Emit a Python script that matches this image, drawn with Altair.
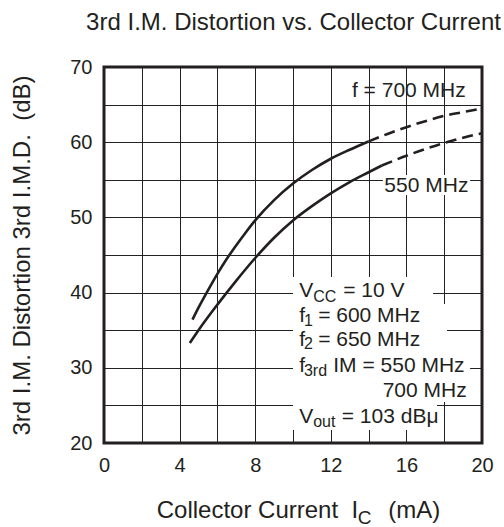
import altair as alt
import pandas as pd

# ---- curve data ----
ic_700_solid = [4.68, 5.0, 5.5, 6.0, 6.5, 7.0, 7.5, 8.0, 9.0, 10.0, 11.0, 12.0, 13.0, 14.0]
db_700_solid = [36.4, 38.0, 40.3, 42.5, 44.5, 46.3, 48.0, 49.6, 52.3, 54.5, 56.3, 57.8, 59.0, 60.1]
ic_700_dash = [14.0, 15.0, 16.0, 17.0, 18.0, 19.0, 20.0]
db_700_dash = [60.1, 61.1, 62.0, 62.8, 63.5, 64.0, 64.5]

ic_550_solid = [4.54, 5.0, 6.0, 7.0, 8.0, 9.0, 10.0, 11.0, 12.0, 13.0, 14.0, 14.7]
db_550_solid = [33.3, 35.0, 38.4, 41.6, 44.6, 47.3, 49.6, 51.5, 53.2, 54.7, 56.0, 56.9]
ic_550_dash = [14.7, 16.0, 17.0, 18.0, 19.0, 20.0]
db_550_dash = [56.9, 58.2, 59.1, 59.9, 60.6, 61.2]

x_ticks = [0, 2, 4, 6, 8, 10, 12, 14, 16, 18, 20]
y_ticks = [20, 25, 30, 35, 40, 45, 50, 55, 60, 65, 70]

# ---- annotation texts (data coordinates) ----
ann_text = ["f = 700 MHz", "550 MHz",
            "V", "CC", "= 10 V",
            "f", "1", "= 600 MHz",
            "f", "2", "= 650 MHz",
            "f", "3rd", "IM = 550 MHz",
            "700 MHz",
            "V", "out", "= 103 dB\u03bc"]
ann_x = [19.14, 19.28,
         10.33, 11.07, 12.66,
         10.33, 10.58, 11.33,
         10.33, 10.58, 11.33,
         10.33, 10.58, 12.13,
         19.19,
         10.33, 11.07, 12.58]
ann_y = [65.97, 53.42,
         39.38, 38.79, 39.38,
         36.05, 35.60, 36.05,
         32.90, 32.45, 32.90,
         29.48, 28.91, 29.48,
         26.16,
         22.70, 22.17, 22.70]
ann_size = [21, 21,
            21, 16, 21,
            21, 16, 21,
            21, 16, 21,
            21, 16, 21,
            21,
            21, 16, 21]
ann_align = ["right", "right",
             "left", "left", "left",
             "left", "left", "left",
             "left", "left", "left",
             "left", "left", "left",
             "right",
             "left", "left", "left"]

# white knock-out boxes behind labels (data coordinates)
box_x1 = [14.76, 10.0, 10.0, 10.0, 10.0, 10.0, 10.0]
box_x2 = [19.37, 17.41, 18.15, 18.15, 19.37, 19.37, 17.62]
box_y1 = [55.64, 42.07, 38.48, 35.16, 31.97, 28.64, 25.45]
box_y2 = [52.98, 38.48, 35.16, 31.97, 28.64, 25.45, 21.73]

FONT = "Liberation Sans"
INK = "#231f20"
W, H = 378, 376

def seg(ic, db, name):
    return pd.DataFrame({"ic": ic, "db": db, "curve": name})

solid_df = pd.concat([seg(ic_700_solid, db_700_solid, "700"),
                      seg(ic_550_solid, db_550_solid, "550")])
dash_df = pd.concat([seg(ic_700_dash, db_700_dash, "700"),
                     seg(ic_550_dash, db_550_dash, "550")])
ann_df = pd.DataFrame({"ic": ann_x, "db": ann_y, "text": ann_text,
                       "fs": ann_size, "align": ann_align})
box_df = pd.DataFrame({"x1": box_x1, "x2": box_x2, "y1": box_y1, "y2": box_y2})

xscale = alt.Scale(domain=[0, 20], nice=False, zero=False)
yscale = alt.Scale(domain=[20, 70], nice=False, zero=False)

xaxis = alt.Axis(values=x_ticks, labelExpr="datum.value % 4 == 0 ? datum.label : ''",
                 grid=True, gridColor="#222222", gridWidth=1, domain=False, ticks=False,
                 labelFontSize=20, labelFont=FONT, labelColor=INK, labelPadding=12,
                 labelFlush=False, title=None)
yaxis = alt.Axis(values=y_ticks, labelExpr="datum.value % 10 == 0 ? datum.label : ''",
                 grid=True, gridColor="#222222", gridWidth=1, domain=False, ticks=False,
                 labelFontSize=20, labelFont=FONT, labelColor=INK, labelPadding=12,
                 labelFlush=False,
                 title="3rd I.M. Distortion 3rd I.M.D.\u00a0 (dB)",
                 titleFont=FONT, titleFontSize=24, titleFontWeight="normal",
                 titleColor=INK, titleX=-75, titleBaseline="alphabetic")

X = alt.X("ic:Q", scale=xscale, axis=xaxis)
Y = alt.Y("db:Q", scale=yscale, axis=yaxis)

boxes = alt.Chart(box_df).mark_rect(color="white").encode(
    x=alt.X("x1:Q", scale=xscale, axis=xaxis), x2="x2:Q",
    y=alt.Y("y1:Q", scale=yscale, axis=yaxis), y2="y2:Q")

solid = alt.Chart(solid_df).mark_line(color=INK, strokeWidth=2.6,
                                      interpolate="monotone").encode(
    x=X, y=Y, detail="curve:N")
dashed = alt.Chart(dash_df).mark_line(color=INK, strokeWidth=2.6, strokeDash=[11, 6],
                                      interpolate="monotone").encode(
    x=X, y=Y, detail="curve:N")

def text_layer(align):
    return alt.Chart(ann_df).transform_filter(
        alt.datum.align == align
    ).mark_text(align=align, baseline="alphabetic", font=FONT, color=INK).encode(
        x=X, y=Y, text="text:N", size=alt.Size("fs:Q", scale=None, legend=None))

# chart title and x-axis title (with subscript) as free text, pixel offsets from plot origin
xt_text = ["3rd I.M. Distortion vs. Collector Current",
           "Collector Current\u00a0 I", "C", "(mA)"]
xt_px = [189.5, 52.7, 253.7, 284.3]
xt_py = [-37, 451, 457, 451]
xt_fs = [24, 24, 19, 24]
xt_align = ["center", "left", "left", "left"]
xt_df = pd.DataFrame({"text": xt_text, "px": xt_px, "py": xt_py, "fs": xt_fs,
                      "align": xt_align})

def free_text(align):
    return alt.Chart(xt_df).transform_filter(
        alt.datum.align == align
    ).mark_text(align=align, baseline="alphabetic", font=FONT, color=INK).encode(
        x=alt.X("px:Q", scale=None), y=alt.Y("py:Q", scale=None), text="text:N",
        size=alt.Size("fs:Q", scale=None, legend=None))

frame = alt.Chart(alt.Data(values=[{"a": 1}])).mark_rect(
    filled=False, stroke=INK, strokeWidth=3).encode(
    x=alt.value(0), x2=alt.value(W), y=alt.value(0), y2=alt.value(H))

chart = alt.layer(boxes, solid, dashed, text_layer("left"), text_layer("right"),
                  free_text("left"), free_text("center"), frame).properties(
    width=W, height=H,
    padding={"left": 104, "top": 67, "right": 22, "bottom": 84},
    autosize="none",
    background="white",
).configure_view(strokeOpacity=0)

chart.save("out.html", embed_options={"renderer": "svg", "actions": False})
